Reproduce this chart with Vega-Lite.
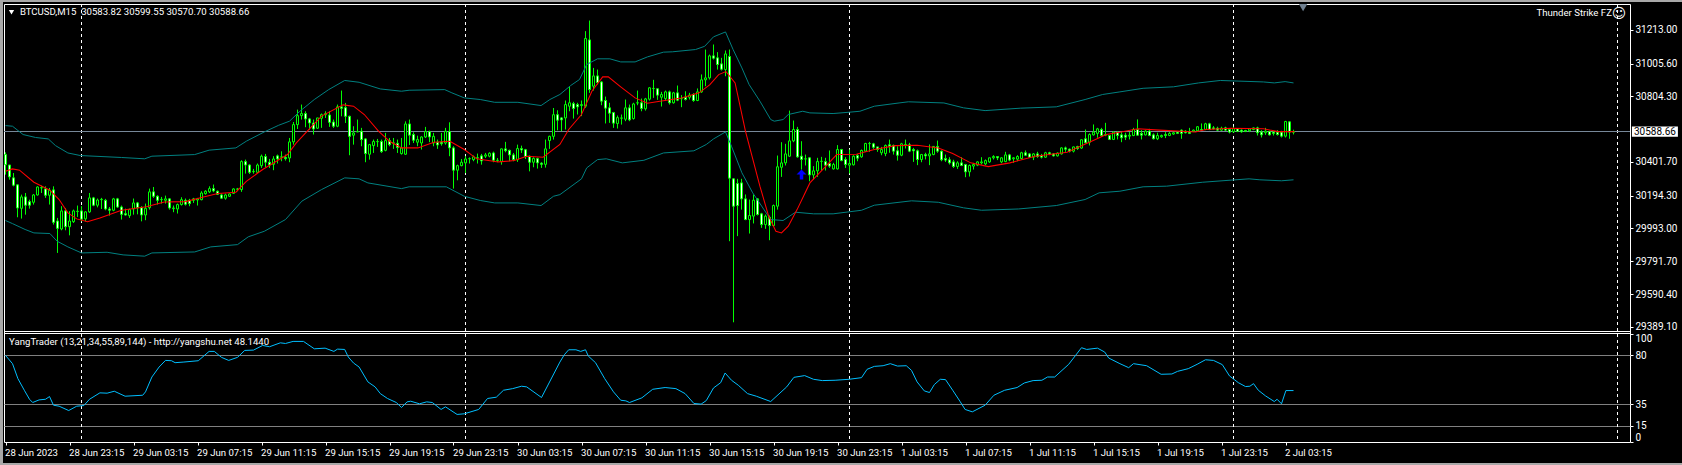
{"$schema":"https://vega.github.io/schema/vega-lite/v6.json","width":1626,"height":438,"autosize":{"type":"none"},"padding":{"left":4,"top":4,"right":52,"bottom":23},"background":"#000000","config":{"scale":{"continuousPadding":0},"view":{"stroke":"#ffffff","strokeWidth":1,"fill":"#000000"},"text":{"font":"Roboto","fontSize":9.6,"color":"#ffffff"},"axis":{"labelFont":"Roboto","labelFontSize":10,"labelColor":"#ffffff","tickColor":"#ffffff","tickSize":3,"domain":false,"grid":false,"title":null,"labelOverlap":false,"labelBound":false}},
"datasets":{
"candles":[
{"i":0,"o":30447,"h":30461,"l":30324,"c":30385},{"i":1,"o":30383,"h":30383,"l":30293,"c":30310},{"i":2,"o":30304,"h":30334,"l":30252,"c":30259},{"i":3,"o":30261,"h":30263,"l":30062,"c":30119},{"i":4,"o":30117,"h":30201,"l":30054,"c":30187},{"i":5,"o":30187,"h":30211,"l":30078,"c":30136},{"i":6,"o":30158,"h":30170,"l":30115,"c":30136},{"i":7,"o":30154,"h":30205,"l":30140,"c":30199},{"i":8,"o":30199,"h":30252,"l":30195,"c":30248},{"i":9,"o":30242,"h":30256,"l":30211,"c":30244},
{"i":10,"o":30236,"h":30252,"l":30181,"c":30197},{"i":11,"o":30197,"h":30242,"l":30140,"c":30228},{"i":12,"o":30230,"h":30252,"l":30017,"c":30031},{"i":13,"o":30039,"h":30058,"l":29843,"c":29994},{"i":14,"o":29990,"h":30130,"l":29982,"c":30101},{"i":15,"o":30101,"h":30119,"l":29982,"c":30004},{"i":16,"o":30004,"h":30099,"l":29951,"c":30039},{"i":17,"o":30035,"h":30109,"l":30027,"c":30101},{"i":18,"o":30097,"h":30134,"l":30064,"c":30099},{"i":19,"o":30101,"h":30130,"l":30037,"c":30050},
{"i":20,"o":30052,"h":30099,"l":30037,"c":30095},{"i":21,"o":30095,"h":30211,"l":30089,"c":30181},{"i":22,"o":30181,"h":30187,"l":30130,"c":30136},{"i":23,"o":30136,"h":30177,"l":30123,"c":30168},{"i":24,"o":30170,"h":30181,"l":30113,"c":30172},{"i":25,"o":30166,"h":30175,"l":30105,"c":30113},{"i":26,"o":30113,"h":30125,"l":30072,"c":30105},{"i":27,"o":30105,"h":30181,"l":30099,"c":30175},{"i":28,"o":30175,"h":30181,"l":30119,"c":30125},{"i":29,"o":30125,"h":30134,"l":30048,"c":30080},
{"i":30,"o":30084,"h":30115,"l":30072,"c":30076},{"i":31,"o":30072,"h":30115,"l":30058,"c":30109},{"i":32,"o":30113,"h":30177,"l":30078,"c":30150},{"i":33,"o":30150,"h":30156,"l":30080,"c":30121},{"i":34,"o":30121,"h":30130,"l":30037,"c":30076},{"i":35,"o":30076,"h":30146,"l":30044,"c":30117},{"i":36,"o":30121,"h":30238,"l":30109,"c":30218},{"i":37,"o":30218,"h":30248,"l":30181,"c":30191},{"i":38,"o":30191,"h":30197,"l":30140,"c":30166},{"i":39,"o":30170,"h":30187,"l":30146,"c":30172},
{"i":40,"o":30166,"h":30195,"l":30146,"c":30175},{"i":41,"o":30175,"h":30179,"l":30109,"c":30119},{"i":42,"o":30115,"h":30134,"l":30093,"c":30119},{"i":43,"o":30113,"h":30146,"l":30085,"c":30140},{"i":44,"o":30140,"h":30185,"l":30134,"c":30170},{"i":45,"o":30166,"h":30177,"l":30134,"c":30142},{"i":46,"o":30166,"h":30175,"l":30130,"c":30146},{"i":47,"o":30166,"h":30181,"l":30150,"c":30175},{"i":48,"o":30168,"h":30181,"l":30134,"c":30175},{"i":49,"o":30170,"h":30222,"l":30166,"c":30211},
{"i":50,"o":30207,"h":30228,"l":30201,"c":30222},{"i":51,"o":30218,"h":30252,"l":30211,"c":30238},{"i":52,"o":30238,"h":30263,"l":30216,"c":30224},{"i":53,"o":30222,"h":30226,"l":30199,"c":30203},{"i":54,"o":30199,"h":30207,"l":30175,"c":30179},{"i":55,"o":30179,"h":30207,"l":30170,"c":30199},{"i":56,"o":30191,"h":30209,"l":30187,"c":30205},{"i":57,"o":30209,"h":30240,"l":30205,"c":30236},{"i":58,"o":30234,"h":30242,"l":30222,"c":30236},{"i":59,"o":30232,"h":30412,"l":30218,"c":30404},
{"i":60,"o":30404,"h":30416,"l":30330,"c":30383},{"i":61,"o":30383,"h":30387,"l":30328,"c":30338},{"i":62,"o":30342,"h":30359,"l":30330,"c":30344},{"i":63,"o":30338,"h":30392,"l":30334,"c":30383},{"i":64,"o":30379,"h":30447,"l":30365,"c":30437},{"i":65,"o":30435,"h":30451,"l":30369,"c":30400},{"i":66,"o":30400,"h":30420,"l":30365,"c":30383},{"i":67,"o":30387,"h":30437,"l":30351,"c":30420},{"i":68,"o":30439,"h":30447,"l":30392,"c":30420},{"i":69,"o":30431,"h":30467,"l":30406,"c":30433},
{"i":70,"o":30430,"h":30447,"l":30410,"c":30422},{"i":71,"o":30426,"h":30549,"l":30400,"c":30525},{"i":72,"o":30525,"h":30647,"l":30508,"c":30631},{"i":73,"o":30631,"h":30723,"l":30604,"c":30686},{"i":74,"o":30686,"h":30754,"l":30662,"c":30699},{"i":75,"o":30699,"h":30713,"l":30615,"c":30666},{"i":76,"o":30666,"h":30672,"l":30600,"c":30641},{"i":77,"o":30641,"h":30662,"l":30570,"c":30604},{"i":78,"o":30609,"h":30672,"l":30604,"c":30672},{"i":79,"o":30670,"h":30699,"l":30611,"c":30692},
{"i":80,"o":30692,"h":30713,"l":30672,"c":30699},{"i":81,"o":30690,"h":30713,"l":30617,"c":30645},{"i":82,"o":30647,"h":30662,"l":30611,"c":30621},{"i":83,"o":30621,"h":30754,"l":30615,"c":30740},{"i":84,"o":30740,"h":30840,"l":30682,"c":30731},{"i":85,"o":30735,"h":30764,"l":30641,"c":30682},{"i":86,"o":30682,"h":30686,"l":30443,"c":30559},{"i":87,"o":30566,"h":30621,"l":30508,"c":30580},{"i":88,"o":30586,"h":30662,"l":30586,"c":30588},{"i":89,"o":30590,"h":30611,"l":30498,"c":30539},
{"i":90,"o":30543,"h":30547,"l":30400,"c":30453},{"i":91,"o":30449,"h":30512,"l":30416,"c":30508},{"i":92,"o":30502,"h":30539,"l":30457,"c":30527},{"i":93,"o":30526,"h":30543,"l":30494,"c":30527},{"i":94,"o":30527,"h":30539,"l":30457,"c":30465},{"i":95,"o":30473,"h":30580,"l":30467,"c":30533},{"i":96,"o":30533,"h":30549,"l":30498,"c":30508},{"i":97,"o":30517,"h":30549,"l":30482,"c":30519},{"i":98,"o":30516,"h":30539,"l":30457,"c":30490},{"i":99,"o":30453,"h":30549,"l":30447,"c":30488},
{"i":100,"o":30449,"h":30651,"l":30445,"c":30635},{"i":101,"o":30635,"h":30662,"l":30506,"c":30566},{"i":102,"o":30570,"h":30584,"l":30518,"c":30535},{"i":103,"o":30523,"h":30563,"l":30498,"c":30539},{"i":104,"o":30518,"h":30559,"l":30478,"c":30555},{"i":105,"o":30555,"h":30617,"l":30549,"c":30588},{"i":106,"o":30588,"h":30594,"l":30523,"c":30555},{"i":107,"o":30518,"h":30580,"l":30498,"c":30559},{"i":108,"o":30523,"h":30539,"l":30482,"c":30506},{"i":109,"o":30523,"h":30580,"l":30502,"c":30514},
{"i":110,"o":30518,"h":30611,"l":30508,"c":30590},{"i":111,"o":30588,"h":30645,"l":30437,"c":30488},{"i":112,"o":30488,"h":30498,"l":30238,"c":30351},{"i":113,"o":30351,"h":30385,"l":30289,"c":30379},{"i":114,"o":30379,"h":30420,"l":30375,"c":30400},{"i":115,"o":30396,"h":30437,"l":30334,"c":30420},{"i":116,"o":30421,"h":30430,"l":30392,"c":30422},{"i":117,"o":30416,"h":30441,"l":30406,"c":30433},{"i":118,"o":30426,"h":30453,"l":30392,"c":30428},{"i":119,"o":30439,"h":30451,"l":30385,"c":30408},
{"i":120,"o":30437,"h":30457,"l":30426,"c":30445},{"i":121,"o":30437,"h":30461,"l":30430,"c":30455},{"i":122,"o":30457,"h":30465,"l":30400,"c":30412},{"i":123,"o":30411,"h":30426,"l":30400,"c":30412},{"i":124,"o":30404,"h":30484,"l":30385,"c":30482},{"i":125,"o":30482,"h":30525,"l":30461,"c":30471},{"i":126,"o":30473,"h":30477,"l":30406,"c":30445},{"i":127,"o":30445,"h":30457,"l":30406,"c":30416},{"i":128,"o":30416,"h":30508,"l":30402,"c":30484},{"i":129,"o":30484,"h":30502,"l":30457,"c":30475},
{"i":130,"o":30477,"h":30482,"l":30420,"c":30435},{"i":131,"o":30437,"h":30441,"l":30344,"c":30400},{"i":132,"o":30400,"h":30430,"l":30369,"c":30424},{"i":133,"o":30422,"h":30428,"l":30361,"c":30396},{"i":134,"o":30394,"h":30400,"l":30365,"c":30387},{"i":135,"o":30387,"h":30539,"l":30367,"c":30482},{"i":136,"o":30533,"h":30563,"l":30482,"c":30559},{"i":137,"o":30559,"h":30733,"l":30539,"c":30692},{"i":138,"o":30692,"h":30719,"l":30596,"c":30658},{"i":139,"o":30672,"h":30677,"l":30591,"c":30660},
{"i":140,"o":30672,"h":30779,"l":30601,"c":30754},{"i":141,"o":30744,"h":30867,"l":30713,"c":30765},{"i":142,"o":30760,"h":30771,"l":30668,"c":30730},{"i":143,"o":30754,"h":30765,"l":30693,"c":30740},{"i":144,"o":30748,"h":30779,"l":30683,"c":30754},{"i":145,"o":30744,"h":31205,"l":30734,"c":31160},{"i":146,"o":31151,"h":31270,"l":30826,"c":30846},{"i":147,"o":30867,"h":30979,"l":30840,"c":30930},{"i":148,"o":30930,"h":30969,"l":30877,"c":30889},{"i":149,"o":30893,"h":30898,"l":30750,"c":30775},
{"i":150,"o":30779,"h":30803,"l":30638,"c":30732},{"i":151,"o":30734,"h":30765,"l":30642,"c":30701},{"i":152,"o":30705,"h":30709,"l":30611,"c":30640},{"i":153,"o":30638,"h":30687,"l":30607,"c":30674},{"i":154,"o":30670,"h":30693,"l":30631,"c":30672},{"i":155,"o":30664,"h":30785,"l":30652,"c":30734},{"i":156,"o":30734,"h":30754,"l":30652,"c":30660},{"i":157,"o":30668,"h":30765,"l":30662,"c":30758},{"i":158,"o":30764,"h":30840,"l":30750,"c":30765},{"i":159,"o":30765,"h":30791,"l":30713,"c":30730},
{"i":160,"o":30728,"h":30795,"l":30717,"c":30789},{"i":161,"o":30787,"h":30861,"l":30779,"c":30857},{"i":162,"o":30852,"h":30906,"l":30795,"c":30853},{"i":163,"o":30851,"h":30853,"l":30783,"c":30812},{"i":164,"o":30799,"h":30832,"l":30742,"c":30816},{"i":165,"o":30791,"h":30840,"l":30779,"c":30832},{"i":166,"o":30832,"h":30840,"l":30754,"c":30765},{"i":167,"o":30765,"h":30832,"l":30760,"c":30826},{"i":168,"o":30826,"h":30871,"l":30775,"c":30781},{"i":169,"o":30790,"h":30812,"l":30738,"c":30791},
{"i":170,"o":30799,"h":30836,"l":30779,"c":30785},{"i":171,"o":30799,"h":30826,"l":30785,"c":30812},{"i":172,"o":30816,"h":30824,"l":30771,"c":30779},{"i":173,"o":30779,"h":30853,"l":30775,"c":30832},{"i":174,"o":30832,"h":30939,"l":30826,"c":30906},{"i":175,"o":30906,"h":31092,"l":30867,"c":30918},{"i":176,"o":30918,"h":31061,"l":30908,"c":31053},{"i":177,"o":31053,"h":31123,"l":31031,"c":31039},{"i":178,"o":31041,"h":31076,"l":30969,"c":31000},{"i":179,"o":31004,"h":31041,"l":30963,"c":30971},
{"i":180,"o":30969,"h":31086,"l":30928,"c":31065},{"i":181,"o":31049,"h":31092,"l":29915,"c":30302},{"i":182,"o":30298,"h":30302,"l":29417,"c":30130},{"i":183,"o":30269,"h":30298,"l":29946,"c":30134},{"i":184,"o":30273,"h":30298,"l":30109,"c":30175},{"i":185,"o":30175,"h":30202,"l":30044,"c":30048},{"i":186,"o":30048,"h":30171,"l":29962,"c":30073},{"i":187,"o":30069,"h":30202,"l":30024,"c":30167},{"i":188,"o":30175,"h":30179,"l":30073,"c":30079},{"i":189,"o":30083,"h":30089,"l":29997,"c":30017},
{"i":190,"o":30017,"h":30079,"l":29991,"c":30069},{"i":191,"o":30062,"h":30073,"l":29921,"c":30011},{"i":192,"o":30011,"h":30140,"l":30007,"c":30134},{"i":193,"o":30130,"h":30441,"l":30109,"c":30372},{"i":194,"o":30369,"h":30523,"l":30310,"c":30396},{"i":195,"o":30396,"h":30513,"l":30380,"c":30451},{"i":196,"o":30437,"h":30717,"l":30433,"c":30531},{"i":197,"o":30531,"h":30656,"l":30523,"c":30601},{"i":198,"o":30601,"h":30617,"l":30427,"c":30433},{"i":199,"o":30437,"h":30529,"l":30355,"c":30417},
{"i":200,"o":30420,"h":30447,"l":30380,"c":30421},{"i":201,"o":30427,"h":30431,"l":30283,"c":30322},{"i":202,"o":30322,"h":30376,"l":30294,"c":30347},{"i":203,"o":30347,"h":30427,"l":30310,"c":30404},{"i":204,"o":30405,"h":30433,"l":30349,"c":30406},{"i":205,"o":30404,"h":30427,"l":30349,"c":30382},{"i":206,"o":30392,"h":30472,"l":30365,"c":30376},{"i":207,"o":30359,"h":30396,"l":30355,"c":30386},{"i":208,"o":30359,"h":30505,"l":30355,"c":30478},{"i":209,"o":30478,"h":30482,"l":30406,"c":30410},
{"i":210,"o":30417,"h":30431,"l":30365,"c":30386},{"i":211,"o":30382,"h":30478,"l":30331,"c":30392},{"i":212,"o":30384,"h":30443,"l":30380,"c":30437},{"i":213,"o":30441,"h":30451,"l":30406,"c":30425},{"i":214,"o":30433,"h":30478,"l":30427,"c":30472},{"i":215,"o":30468,"h":30519,"l":30464,"c":30515},{"i":216,"o":30514,"h":30525,"l":30464,"c":30515},{"i":217,"o":30513,"h":30519,"l":30482,"c":30492},{"i":218,"o":30494,"h":30494,"l":30464,"c":30478},{"i":219,"o":30458,"h":30494,"l":30443,"c":30478},
{"i":220,"o":30453,"h":30509,"l":30437,"c":30503},{"i":221,"o":30507,"h":30539,"l":30458,"c":30498},{"i":222,"o":30503,"h":30509,"l":30447,"c":30468},{"i":223,"o":30470,"h":30498,"l":30410,"c":30443},{"i":224,"o":30443,"h":30519,"l":30437,"c":30513},{"i":225,"o":30505,"h":30539,"l":30484,"c":30509},{"i":226,"o":30507,"h":30519,"l":30462,"c":30468},{"i":227,"o":30478,"h":30488,"l":30402,"c":30470},{"i":228,"o":30470,"h":30478,"l":30382,"c":30417},{"i":229,"o":30417,"h":30451,"l":30400,"c":30447},
{"i":230,"o":30447,"h":30458,"l":30417,"c":30439},{"i":231,"o":30439,"h":30509,"l":30382,"c":30451},{"i":232,"o":30447,"h":30499,"l":30443,"c":30497},{"i":233,"o":30497,"h":30533,"l":30458,"c":30468},{"i":234,"o":30468,"h":30472,"l":30406,"c":30415},{"i":235,"o":30423,"h":30447,"l":30402,"c":30413},{"i":236,"o":30415,"h":30431,"l":30386,"c":30396},{"i":237,"o":30402,"h":30415,"l":30365,"c":30374},{"i":238,"o":30374,"h":30406,"l":30359,"c":30396},{"i":239,"o":30396,"h":30431,"l":30376,"c":30380},
{"i":240,"o":30386,"h":30390,"l":30308,"c":30341},{"i":241,"o":30341,"h":30386,"l":30312,"c":30380},{"i":242,"o":30376,"h":30396,"l":30355,"c":30386},{"i":243,"o":30382,"h":30406,"l":30376,"c":30402},{"i":244,"o":30396,"h":30431,"l":30386,"c":30402},{"i":245,"o":30390,"h":30417,"l":30382,"c":30410},{"i":246,"o":30402,"h":30427,"l":30396,"c":30427},{"i":247,"o":30427,"h":30443,"l":30417,"c":30435},{"i":248,"o":30435,"h":30437,"l":30413,"c":30427},{"i":249,"o":30402,"h":30431,"l":30394,"c":30427},
{"i":250,"o":30404,"h":30464,"l":30400,"c":30445},{"i":251,"o":30445,"h":30451,"l":30406,"c":30413},{"i":252,"o":30421,"h":30431,"l":30396,"c":30427},{"i":253,"o":30419,"h":30443,"l":30406,"c":30435},{"i":254,"o":30423,"h":30464,"l":30417,"c":30458},{"i":255,"o":30458,"h":30472,"l":30439,"c":30443},{"i":256,"o":30451,"h":30456,"l":30427,"c":30431},{"i":257,"o":30431,"h":30456,"l":30413,"c":30451},{"i":258,"o":30451,"h":30464,"l":30427,"c":30435},{"i":259,"o":30441,"h":30451,"l":30423,"c":30431},
{"i":260,"o":30431,"h":30464,"l":30427,"c":30458},{"i":261,"o":30458,"h":30464,"l":30443,"c":30451},{"i":262,"o":30451,"h":30456,"l":30435,"c":30439},{"i":263,"o":30439,"h":30460,"l":30435,"c":30456},{"i":264,"o":30451,"h":30492,"l":30447,"c":30488},{"i":265,"o":30488,"h":30496,"l":30464,"c":30480},{"i":266,"o":30480,"h":30484,"l":30460,"c":30468},{"i":267,"o":30468,"h":30496,"l":30460,"c":30494},{"i":268,"o":30496,"h":30501,"l":30476,"c":30484},{"i":269,"o":30487,"h":30540,"l":30482,"c":30538},
{"i":270,"o":30544,"h":30601,"l":30515,"c":30519},{"i":271,"o":30523,"h":30577,"l":30503,"c":30570},{"i":272,"o":30568,"h":30632,"l":30564,"c":30585},{"i":273,"o":30577,"h":30611,"l":30550,"c":30605},{"i":274,"o":30601,"h":30611,"l":30556,"c":30564},{"i":275,"o":30566,"h":30642,"l":30560,"c":30570},{"i":276,"o":30564,"h":30568,"l":30536,"c":30540},{"i":277,"o":30540,"h":30591,"l":30536,"c":30585},{"i":278,"o":30585,"h":30589,"l":30540,"c":30564},{"i":279,"o":30568,"h":30585,"l":30523,"c":30550},
{"i":280,"o":30566,"h":30581,"l":30536,"c":30554},{"i":281,"o":30560,"h":30585,"l":30540,"c":30566},{"i":282,"o":30564,"h":30611,"l":30560,"c":30601},{"i":283,"o":30601,"h":30663,"l":30564,"c":30566},{"i":284,"o":30577,"h":30597,"l":30540,"c":30566},{"i":285,"o":30568,"h":30597,"l":30564,"c":30591},{"i":286,"o":30591,"h":30605,"l":30560,"c":30564},{"i":287,"o":30568,"h":30577,"l":30540,"c":30544},{"i":288,"o":30544,"h":30581,"l":30536,"c":30564},{"i":289,"o":30556,"h":30570,"l":30550,"c":30564},
{"i":290,"o":30570,"h":30585,"l":30548,"c":30564},{"i":291,"o":30564,"h":30585,"l":30560,"c":30577},{"i":292,"o":30573,"h":30585,"l":30568,"c":30581},{"i":293,"o":30585,"h":30589,"l":30573,"c":30577},{"i":294,"o":30597,"h":30601,"l":30544,"c":30577},{"i":295,"o":30591,"h":30597,"l":30577,"c":30581},{"i":296,"o":30585,"h":30611,"l":30573,"c":30577},{"i":297,"o":30589,"h":30601,"l":30585,"c":30597},{"i":298,"o":30593,"h":30622,"l":30589,"c":30618},{"i":299,"o":30601,"h":30638,"l":30593,"c":30597},
{"i":300,"o":30601,"h":30642,"l":30597,"c":30636},{"i":301,"o":30636,"h":30642,"l":30597,"c":30601},{"i":302,"o":30611,"h":30622,"l":30601,"c":30605},{"i":303,"o":30609,"h":30618,"l":30593,"c":30597},{"i":304,"o":30597,"h":30618,"l":30593,"c":30609},{"i":305,"o":30611,"h":30618,"l":30593,"c":30597},{"i":306,"o":30601,"h":30605,"l":30577,"c":30585},{"i":307,"o":30587,"h":30618,"l":30581,"c":30607},{"i":308,"o":30605,"h":30609,"l":30585,"c":30589},{"i":309,"o":30597,"h":30601,"l":30581,"c":30587},
{"i":310,"o":30595,"h":30599,"l":30585,"c":30589},{"i":311,"o":30593,"h":30609,"l":30585,"c":30605},{"i":312,"o":30601,"h":30613,"l":30597,"c":30611},{"i":313,"o":30611,"h":30618,"l":30564,"c":30581},{"i":314,"o":30585,"h":30597,"l":30552,"c":30568},{"i":315,"o":30581,"h":30611,"l":30568,"c":30591},{"i":316,"o":30589,"h":30593,"l":30564,"c":30568},{"i":317,"o":30585,"h":30591,"l":30564,"c":30577},{"i":318,"o":30585,"h":30597,"l":30564,"c":30570},{"i":319,"o":30585,"h":30593,"l":30552,"c":30560},
{"i":320,"o":30560,"h":30654,"l":30552,"c":30650},{"i":321,"o":30648,"h":30652,"l":30544,"c":30585},{"i":322,"o":30583.82,"h":30599.55,"l":30570.70,"c":30588.66}],
"upper":[{"i":0,"p":30625},{"i":1.75,"p":30621},{"i":4.4,"p":30570},{"i":7.5,"p":30552},{"i":10.7,"p":30543},{"i":12.5,"p":30502},{"i":15.6,"p":30457},{"i":18.7,"p":30441},{"i":29,"p":30429},{"i":34.8,"p":30421},{"i":36.6,"p":30437},{"i":47.3,"p":30447},{"i":50.9,"p":30474},{"i":57.6,"p":30488},{"i":60.2,"p":30529},{"i":64.7,"p":30586},{"i":68.3,"p":30627},{"i":71,"p":30652},{"i":73.6,"p":30713},{"i":77.2,"p":30785},{"i":80.8,"p":30846},{"i":84.8,"p":30902},{"i":88.4,"p":30891},{"i":93.7,"p":30850},{"i":99,"p":30836},{"i":100.9,"p":30842},{"i":109.8,"p":30846},{"i":111.6,"p":30826},{"i":114.7,"p":30795},{"i":118.7,"p":30785},{"i":122.3,"p":30768},{"i":128.1,"p":30768},{"i":133.9,"p":30748},{"i":136.1,"p":30785},{"i":138.6,"p":30816},{"i":141.3,"p":30871},{"i":143.5,"p":30908},{"i":145.3,"p":31000},{"i":148,"p":31035},{"i":151.1,"p":31035},{"i":153.8,"p":31016},{"i":157.4,"p":31016},{"i":160.5,"p":31047},{"i":164.5,"p":31076},{"i":166.7,"p":31078},{"i":172.5,"p":31092},{"i":174.8,"p":31112},{"i":177,"p":31170},{"i":180,"p":31200},{"i":181.9,"p":31092},{"i":184.1,"p":30979},{"i":185.9,"p":30877},{"i":188.6,"p":30775},{"i":191.3,"p":30662},{"i":192.2,"p":30652},{"i":194.4,"p":30662},{"i":195.7,"p":30693},{"i":199.3,"p":30713},{"i":201.1,"p":30703},{"i":206.9,"p":30699},{"i":210.9,"p":30707},{"i":213.6,"p":30713},{"i":217.2,"p":30744},{"i":223.4,"p":30764},{"i":225.7,"p":30771},{"i":234.6,"p":30764},{"i":239.5,"p":30734},{"i":244.9,"p":30717},{"i":253.8,"p":30732},{"i":262.7,"p":30740},{"i":269.9,"p":30785},{"i":274.3,"p":30816},{"i":278.6,"p":30832},{"i":284.4,"p":30854},{"i":292,"p":30863},{"i":298.3,"p":30887},{"i":303.7,"p":30902},{"i":314.5,"p":30893},{"i":317.2,"p":30887},{"i":319.9,"p":30895},{"i":322,"p":30887}],
"lower":[{"i":0,"p":30042},{"i":1.75,"p":30023},{"i":4.9,"p":29987},{"i":7.1,"p":29966},{"i":11.1,"p":29962},{"i":12.9,"p":29915},{"i":15.6,"p":29880},{"i":19,"p":29843},{"i":25.4,"p":29847},{"i":29.4,"p":29831},{"i":34.8,"p":29823},{"i":36.6,"p":29843},{"i":47.3,"p":29849},{"i":51.3,"p":29880},{"i":58,"p":29894},{"i":60.7,"p":29942},{"i":64.7,"p":29976},{"i":70,"p":30048},{"i":74.1,"p":30161},{"i":79,"p":30232},{"i":84.8,"p":30304},{"i":88.4,"p":30298},{"i":90.6,"p":30273},{"i":99,"p":30238},{"i":100.9,"p":30249},{"i":110.2,"p":30249},{"i":114.7,"p":30191},{"i":118.7,"p":30165},{"i":122.3,"p":30150},{"i":128.1,"p":30150},{"i":133.9,"p":30134},{"i":137,"p":30191},{"i":138.6,"p":30201},{"i":144,"p":30298},{"i":145.3,"p":30365},{"i":148,"p":30416},{"i":150.2,"p":30421},{"i":154.2,"p":30396},{"i":159.6,"p":30412},{"i":164.5,"p":30457},{"i":172.1,"p":30470},{"i":175.2,"p":30509},{"i":177,"p":30543},{"i":180,"p":30586},{"i":181.5,"p":30498},{"i":184.1,"p":30335},{"i":186.8,"p":30212},{"i":191.3,"p":30048},{"i":194.4,"p":30042},{"i":197.5,"p":30093},{"i":202,"p":30083},{"i":206.9,"p":30083},{"i":214,"p":30105},{"i":217.2,"p":30136},{"i":226.5,"p":30163},{"i":233.2,"p":30154},{"i":239.5,"p":30120},{"i":244,"p":30105},{"i":253.3,"p":30113},{"i":262.7,"p":30134},{"i":269.9,"p":30171},{"i":273.4,"p":30212},{"i":278.6,"p":30222},{"i":284.4,"p":30249},{"i":290.3,"p":30253},{"i":299.2,"p":30277},{"i":306.4,"p":30290},{"i":310.9,"p":30298},{"i":313.6,"p":30292},{"i":319,"p":30286},{"i":322,"p":30292}],
"ma":[{"i":0,"p":30345},{"i":1.75,"p":30359},{"i":3.5,"p":30351},{"i":7.1,"p":30277},{"i":11.1,"p":30228},{"i":13.4,"p":30171},{"i":15.6,"p":30089},{"i":17.8,"p":30052},{"i":20.5,"p":30034},{"i":23.6,"p":30058},{"i":29,"p":30105},{"i":35.2,"p":30126},{"i":39.7,"p":30156},{"i":45,"p":30158},{"i":49.5,"p":30187},{"i":53.1,"p":30208},{"i":57.6,"p":30216},{"i":60.2,"p":30283},{"i":64.3,"p":30355},{"i":70.5,"p":30447},{"i":72.7,"p":30519},{"i":75.4,"p":30590},{"i":79,"p":30683},{"i":84.4,"p":30752},{"i":87,"p":30744},{"i":89.7,"p":30693},{"i":93.3,"p":30590},{"i":96,"p":30529},{"i":99,"p":30488},{"i":103.1,"p":30488},{"i":107.1,"p":30523},{"i":111.1,"p":30529},{"i":114.7,"p":30478},{"i":117.8,"p":30421},{"i":123.2,"p":30402},{"i":127.2,"p":30410},{"i":130.3,"p":30437},{"i":134.4,"p":30431},{"i":138.6,"p":30509},{"i":140.8,"p":30601},{"i":144,"p":30693},{"i":146.6,"p":30836},{"i":149.3,"p":30924},{"i":150.7,"p":30924},{"i":153.8,"p":30863},{"i":157.4,"p":30795},{"i":160.5,"p":30762},{"i":163.6,"p":30775},{"i":169,"p":30795},{"i":173.4,"p":30826},{"i":176.1,"p":30877},{"i":178.3,"p":30938},{"i":180.1,"p":30957},{"i":182.4,"p":30887},{"i":185,"p":30590},{"i":188.6,"p":30253},{"i":190.8,"p":30068},{"i":192.6,"p":29976},{"i":194,"p":29966},{"i":195.7,"p":30007},{"i":197.9,"p":30109},{"i":201.1,"p":30273},{"i":204.7,"p":30365},{"i":207.8,"p":30447},{"i":212.7,"p":30449},{"i":217.2,"p":30478},{"i":222.5,"p":30502},{"i":227.9,"p":30504},{"i":233.2,"p":30488},{"i":236.8,"p":30453},{"i":241.3,"p":30396},{"i":245.7,"p":30373},{"i":251.1,"p":30396},{"i":257.4,"p":30437},{"i":265.4,"p":30461},{"i":270.7,"p":30519},{"i":275.2,"p":30570},{"i":278.6,"p":30584},{"i":283.1,"p":30605},{"i":288.5,"p":30597},{"i":297.5,"p":30586},{"i":300.1,"p":30601},{"i":306.4,"p":30609},{"i":314.5,"p":30605},{"i":318.1,"p":30588},{"i":322.2,"p":30588}],
"yang":[{"i":0,"v":79.8},{"i":1.75,"v":72.2},{"i":3.1,"v":58.4},{"i":4.7,"v":47.7},{"i":6,"v":39.4},{"i":6.8,"v":36.4},{"i":8.4,"v":38.8},{"i":10,"v":39.4},{"i":11,"v":41.9},{"i":12,"v":33.9},{"i":13.4,"v":33},{"i":15.8,"v":29},{"i":17.8,"v":33},{"i":19.6,"v":33.6},{"i":21,"v":39.4},{"i":23.6,"v":45.3},{"i":25.4,"v":45},{"i":27.2,"v":46.8},{"i":29.9,"v":42.2},{"i":34.3,"v":43.1},{"i":35,"v":46.2},{"i":36.6,"v":59.9},{"i":38.4,"v":69.1},{"i":40,"v":75.2},{"i":41.5,"v":74.9},{"i":42.4,"v":73.1},{"i":44.6,"v":73.7},{"i":48.2,"v":74.9},{"i":50.9,"v":83.5},{"i":52.2,"v":83.5},{"i":54,"v":78},{"i":55.8,"v":75.2},{"i":58,"v":78},{"i":59.8,"v":84.4},{"i":62,"v":84.7},{"i":64.3,"v":89},{"i":66,"v":87.8},{"i":68.7,"v":91.4},{"i":70,"v":90.8},{"i":71.9,"v":92.7},{"i":74.5,"v":92.7},{"i":77.2,"v":85.9},{"i":79.9,"v":86.5},{"i":82.1,"v":83.5},{"i":83,"v":85.6},{"i":84.8,"v":85.3},{"i":85.7,"v":78.3},{"i":87,"v":72.8},{"i":88.4,"v":69.1},{"i":90.6,"v":55.4},{"i":92.4,"v":50.8},{"i":93.7,"v":44.6},{"i":95.5,"v":40.1},{"i":97.7,"v":36.4},{"i":99,"v":31.8},{"i":100.4,"v":37},{"i":101.3,"v":37.6},{"i":103.5,"v":35.2},{"i":105.3,"v":37},{"i":106.7,"v":36.4},{"i":108.9,"v":30},{"i":110,"v":32.4},{"i":112.9,"v":25.4},{"i":114.7,"v":26},{"i":118.3,"v":30},{"i":120.5,"v":40.1},{"i":122.7,"v":41.3},{"i":124.5,"v":47.7},{"i":126.8,"v":49.2},{"i":129,"v":51.4},{"i":130.3,"v":50.8},{"i":134,"v":41},{"i":138.6,"v":73.7},{"i":139.7,"v":80.4},{"i":140.8,"v":85},{"i":142.6,"v":85},{"i":143.8,"v":83.5},{"i":145,"v":85},{"i":145.7,"v":79.2},{"i":147.5,"v":73.1},{"i":149.8,"v":58.4},{"i":152,"v":46.2},{"i":153.8,"v":38.5},{"i":155.1,"v":37.9},{"i":156,"v":36.4},{"i":159.1,"v":40.7},{"i":161.8,"v":48.6},{"i":164.9,"v":50.2},{"i":167.6,"v":49.2},{"i":169.9,"v":44.6},{"i":172.1,"v":35.5},{"i":173.9,"v":34.9},{"i":175.2,"v":38.2},{"i":177,"v":49.8},{"i":178.8,"v":54.7},{"i":179.9,"v":63.6},{"i":181.5,"v":56.9},{"i":183.2,"v":52.3},{"i":185.5,"v":44.6},{"i":187.7,"v":42.2},{"i":191.3,"v":37.3},{"i":195.3,"v":50.8},{"i":197.1,"v":59.6},{"i":199.8,"v":61.2},{"i":202,"v":57.8},{"i":204.2,"v":56.6},{"i":207.4,"v":56.9},{"i":210.9,"v":57.8},{"i":214,"v":59.3},{"i":215.4,"v":67},{"i":217.2,"v":69.7},{"i":219.4,"v":70.3},{"i":221.2,"v":72.2},{"i":223,"v":70},{"i":225.2,"v":70.3},{"i":226.5,"v":66},{"i":227.9,"v":55.4},{"i":229.7,"v":47.1},{"i":231,"v":45.6},{"i":232.2,"v":52.9},{"i":233.7,"v":57.8},{"i":235,"v":57.5},{"i":236.8,"v":47.7},{"i":238.6,"v":37.6},{"i":239.9,"v":30},{"i":241.7,"v":27.8},{"i":244.9,"v":33.9},{"i":247.1,"v":43.1},{"i":249.8,"v":47.7},{"i":252.9,"v":50.2},{"i":254.7,"v":54.4},{"i":256.9,"v":56.6},{"i":259.1,"v":56.9},{"i":260.5,"v":59.9},{"i":262.3,"v":59.9},{"i":265.8,"v":71.6},{"i":267.2,"v":78.3},{"i":269,"v":86.9},{"i":270.3,"v":85.3},{"i":273,"v":86.5},{"i":274.8,"v":82.9},{"i":275.8,"v":77.4},{"i":278.6,"v":72.2},{"i":280.8,"v":68.5},{"i":282,"v":72.2},{"i":285.3,"v":70.3},{"i":288.9,"v":62.4},{"i":291.6,"v":62.7},{"i":293,"v":65.1},{"i":295.7,"v":67.6},{"i":297.9,"v":71.6},{"i":300,"v":75.8},{"i":302,"v":75.2},{"i":304.2,"v":71.3},{"i":306,"v":60.9},{"i":308.2,"v":54.7},{"i":310,"v":51.1},{"i":311.1,"v":51.4},{"i":312,"v":53.8},{"i":313.2,"v":47.7},{"i":315,"v":42.5},{"i":317.2,"v":37.3},{"i":317.9,"v":39.4},{"i":319,"v":35.2},{"i":320.1,"v":47.4},{"i":322,"v":47.4}]
},
"layer":[
{"layer":[
{"data":{"values":[{"a":-1.375,"b":420,"t":31396,"u":31384},{"a":-1.375,"b":-0.625,"t":31396,"u":28540}]},"mark":{"type":"rect","color":"#a8a8a8"},"encoding":{"x":{"field":"a","type":"quantitative","scale":{"domain":[-0.375,406.125],"nice":false,"zero":false}},"x2":{"field":"b"},"y":{"field":"t","type":"quantitative","scale":{"domain":[29360.46,31368.57],"range":[327.5,0.5],"nice":false,"zero":false},"axis":{"orient":"right","values":[31213,31005.6,30804.3,30401.7,30194.3,29993,29791.7,29590.4,29389.1],"format":".2f","labelPadding":2}},"y2":{"field":"u"}}},
{"data":{"values":[{"i":19},{"i":115},{"i":211},{"i":307},{"i":403}]},"mark":{"type":"rule","color":"#ffffff","strokeWidth":1,"strokeDash":[3,3]},"encoding":{"x":{"field":"i","type":"quantitative","scale":{"domain":[-0.375,406.125],"nice":false,"zero":false},"axis":{"orient":"bottom","values":[0,16,32,48,64,80,96,112,128,144,160,176,192,208,224,240,256,272,288,304,320],"labelExpr":"['28 Jun 2023','28 Jun 23:15','29 Jun 03:15','29 Jun 07:15','29 Jun 11:15','29 Jun 15:15','29 Jun 19:15','29 Jun 23:15','30 Jun 03:15','30 Jun 07:15','30 Jun 11:15','30 Jun 15:15','30 Jun 19:15','30 Jun 23:15','1 Jul 03:15','1 Jul 07:15','1 Jul 11:15','1 Jul 15:15','1 Jul 19:15','1 Jul 23:15','2 Jul 03:15'][datum.value/16]","labelAlign":"left","labelOffset":-1,"labelPadding":2,"labelFontSize":9.6}}}},
{"data":{"values":[{"p":29360.46}]},"mark":{"type":"rule","color":"#ffffff","strokeWidth":1},"encoding":{"y":{"field":"p","type":"quantitative","scale":{"domain":[29360.46,31368.57],"range":[327.5,0.5],"nice":false,"zero":false}}}},
{"data":{"values":[{"p":30588.66}]},"mark":{"type":"rule","color":"#778899","strokeWidth":1},"encoding":{"y":{"field":"p","type":"quantitative","scale":{"domain":[29360.46,31368.57],"range":[327.5,0.5],"nice":false,"zero":false}}}},
{"data":{"name":"candles"},"mark":{"type":"rule","color":"#00ff00","strokeWidth":1},"encoding":{"x":{"field":"i","type":"quantitative","scale":{"domain":[-0.375,406.125],"nice":false,"zero":false}},"y":{"field":"l","type":"quantitative","scale":{"domain":[29360.46,31368.57],"range":[327.5,0.5],"nice":false,"zero":false}},"y2":{"field":"h"}}},
{"data":{"name":"candles"},"mark":{"type":"bar","size":2,"stroke":"#00ff00","strokeWidth":1,"orient":"vertical"},"encoding":{"x":{"field":"i","type":"quantitative","scale":{"domain":[-0.375,406.125],"nice":false,"zero":false}},"y":{"field":"o","type":"quantitative","scale":{"domain":[29360.46,31368.57],"range":[327.5,0.5],"nice":false,"zero":false}},"y2":{"field":"c"},"fill":{"condition":{"test":"datum.o>datum.c","value":"#ffffff"},"value":"#000000"}}},
{"data":{"name":"upper"},"mark":{"type":"line","color":"#008080","strokeWidth":1,"interpolate":"linear"},"encoding":{"x":{"field":"i","type":"quantitative","scale":{"domain":[-0.375,406.125],"nice":false,"zero":false}},"y":{"field":"p","type":"quantitative","scale":{"domain":[29360.46,31368.57],"range":[327.5,0.5],"nice":false,"zero":false}}}},
{"data":{"name":"lower"},"mark":{"type":"line","color":"#008080","strokeWidth":1,"interpolate":"linear"},"encoding":{"x":{"field":"i","type":"quantitative","scale":{"domain":[-0.375,406.125],"nice":false,"zero":false}},"y":{"field":"p","type":"quantitative","scale":{"domain":[29360.46,31368.57],"range":[327.5,0.5],"nice":false,"zero":false}}}},
{"data":{"name":"ma"},"mark":{"type":"line","color":"#ff0000","strokeWidth":1.05,"interpolate":"linear"},"encoding":{"x":{"field":"i","type":"quantitative","scale":{"domain":[-0.375,406.125],"nice":false,"zero":false}},"y":{"field":"p","type":"quantitative","scale":{"domain":[29360.46,31368.57],"range":[327.5,0.5],"nice":false,"zero":false}}}},
{"data":{"values":[{"i":199,"p":30324}]},"mark":{"type":"point","filled":true,"opacity":1,"color":"#0000ff","size":100,"shape":"M0,-1 L1,0 L0.35,0 L0.35,1 L-0.35,1 L-0.35,0 L-1,0 Z"},"encoding":{"x":{"field":"i","type":"quantitative","scale":{"domain":[-0.375,406.125],"nice":false,"zero":false}},"y":{"field":"p","type":"quantitative","scale":{"domain":[29360.46,31368.57],"range":[327.5,0.5],"nice":false,"zero":false}}}},
{"data":{"values":[{"i":1.5,"p":31321}]},"mark":{"type":"point","filled":true,"opacity":1,"color":"#ffffff","size":28,"shape":"triangle-down"},"encoding":{"x":{"field":"i","type":"quantitative","scale":{"domain":[-0.375,406.125],"nice":false,"zero":false}},"y":{"field":"p","type":"quantitative","scale":{"domain":[29360.46,31368.57],"range":[327.5,0.5],"nice":false,"zero":false}}}},
{"data":{"values":[{"i":324.4,"p":31350}]},"mark":{"type":"point","filled":true,"opacity":1,"color":"#708090","size":70,"shape":"triangle-down"},"encoding":{"x":{"field":"i","type":"quantitative","scale":{"domain":[-0.375,406.125],"nice":false,"zero":false}},"y":{"field":"p","type":"quantitative","scale":{"domain":[29360.46,31368.57],"range":[327.5,0.5],"nice":false,"zero":false}}}},
{"data":{"values":[{"i":3.6,"p":31321,"t":"BTCUSD,M15\u00a0\u00a030583.82 30599.55 30570.70 30588.66"}]},"mark":{"type":"text","align":"left","baseline":"middle"},"encoding":{"x":{"field":"i","type":"quantitative","scale":{"domain":[-0.375,406.125],"nice":false,"zero":false}},"y":{"field":"p","type":"quantitative","scale":{"domain":[29360.46,31368.57],"range":[327.5,0.5],"nice":false,"zero":false}},"text":{"field":"t"}}},
{"data":{"values":[{"i":401.6,"p":31317,"t":"Thunder Strike FZ"}]},"mark":{"type":"text","align":"right","baseline":"middle"},"encoding":{"x":{"field":"i","type":"quantitative","scale":{"domain":[-0.375,406.125],"nice":false,"zero":false}},"y":{"field":"p","type":"quantitative","scale":{"domain":[29360.46,31368.57],"range":[327.5,0.5],"nice":false,"zero":false}},"text":{"field":"t"}}},
{"data":{"values":[{"i":403.4,"p":31310,"t":"☺"}]},"mark":{"type":"text","align":"center","baseline":"middle","font":"DejaVu Sans","fontSize":14},"encoding":{"x":{"field":"i","type":"quantitative","scale":{"domain":[-0.375,406.125],"nice":false,"zero":false}},"y":{"field":"p","type":"quantitative","scale":{"domain":[29360.46,31368.57],"range":[327.5,0.5],"nice":false,"zero":false}},"text":{"field":"t"}}},
{"data":{"values":[{"a":406.6,"b":418.1,"t":30619,"u":30557}]},"mark":{"type":"rect","color":"#ffffff"},"encoding":{"x":{"field":"a","type":"quantitative","scale":{"domain":[-0.375,406.125],"nice":false,"zero":false}},"x2":{"field":"b"},"y":{"field":"t","type":"quantitative","scale":{"domain":[29360.46,31368.57],"range":[327.5,0.5],"nice":false,"zero":false}},"y2":{"field":"u"}}},
{"data":{"values":[{"i":412.35,"p":30588.66,"t":"30588.66"}]},"mark":{"type":"text","align":"center","baseline":"middle","color":"#000000","fontSize":10},"encoding":{"x":{"field":"i","type":"quantitative","scale":{"domain":[-0.375,406.125],"nice":false,"zero":false}},"y":{"field":"p","type":"quantitative","scale":{"domain":[29360.46,31368.57],"range":[327.5,0.5],"nice":false,"zero":false}},"text":{"field":"t"}}}
]},
{"layer":[
{"data":{"values":[{"v":100}]},"mark":{"type":"rule","color":"#ffffff","strokeWidth":1},"encoding":{"y":{"field":"v","type":"quantitative","scale":{"domain":[0,100],"range":[438,329.5],"nice":false,"zero":false},"axis":{"orient":"right","values":[0,15,35,80,100],"labelFlush":true,"labelPadding":2,"grid":true,"gridColor":{"condition":{"test":"datum.value==0||datum.value==100","value":"transparent"},"value":"#808080"},"gridWidth":1}}}},
{"data":{"name":"yang"},"mark":{"type":"line","color":"#00bfff","strokeWidth":1,"interpolate":"linear"},"encoding":{"x":{"field":"i","type":"quantitative","scale":{"domain":[-0.375,406.125],"nice":false,"zero":false}},"y":{"field":"v","type":"quantitative","scale":{"domain":[0,100],"range":[438,329.5],"nice":false,"zero":false}}}},
{"data":{"values":[{"i":0.9,"v":92,"t":"YangTrader (13,21,34,55,89,144) - http://yangshu.net 48.1440"}]},"mark":{"type":"text","align":"left","baseline":"middle"},"encoding":{"x":{"field":"i","type":"quantitative","scale":{"domain":[-0.375,406.125],"nice":false,"zero":false}},"y":{"field":"v","type":"quantitative","scale":{"domain":[0,100],"range":[438,329.5],"nice":false,"zero":false}},"text":{"field":"t"}}},
{"data":{"values":[{"a":-1.375,"b":420,"t":-19.4,"u":-21.2}]},"mark":{"type":"rect","color":"#a8a8a8"},"encoding":{"x":{"field":"a","type":"quantitative","scale":{"domain":[-0.375,406.125],"nice":false,"zero":false}},"x2":{"field":"b"},"y":{"field":"t","type":"quantitative","scale":{"domain":[0,100],"range":[438,329.5],"nice":false,"zero":false}},"y2":{"field":"u"}}}
]}
],
"resolve":{"scale":{"y":"independent"},"axis":{"y":"independent"}}}
